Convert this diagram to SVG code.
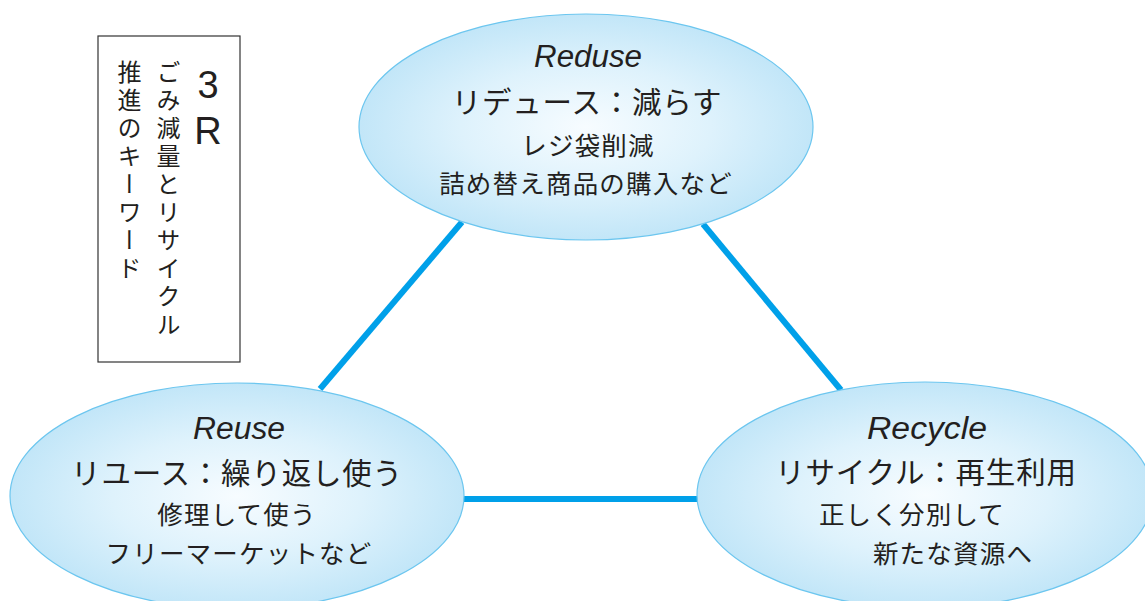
<svg xmlns="http://www.w3.org/2000/svg" width="1145" height="601" viewBox="0 0 1145 601">
<defs>
<radialGradient id="bub" cx="50%" cy="50%" r="50%">
<stop offset="0" stop-color="#f7fcff"/>
<stop offset="0.55" stop-color="#def2fc"/>
<stop offset="1" stop-color="#c2e6f8"/>
</radialGradient>
<style>
.bub{fill:url(#bub);stroke:#6cc6ef;stroke-width:1.2}
.con{stroke:#00a0e9;stroke-width:6;fill:none}
text{fill:#231f20;font-family:"Noto Sans CJK JP","Noto Sans",sans-serif}
.t{font-family:"Liberation Sans",Arial,sans-serif;font-style:italic;font-size:31px;text-anchor:middle;dominant-baseline:central}
.m{font-size:29.5px;text-anchor:middle;dominant-baseline:central;letter-spacing:0.8px}
.s{font-size:25.5px;text-anchor:middle;dominant-baseline:central;letter-spacing:1.2px}
.v{writing-mode:vertical-rl;font-size:24px;letter-spacing:4px}
.box{fill:#fff;stroke:#333;stroke-width:1.2}
</style>
</defs>
<rect width="1145" height="601" fill="#fff"/>
<g id="connectors">
<line class="con" x1="462" y1="222" x2="320" y2="389"/>
<line class="con" x1="703" y1="224" x2="841" y2="390"/>
<line class="con" x1="462" y1="499" x2="699" y2="499"/>
</g>
<g id="legend">
<rect class="box" x="98" y="36" width="142" height="326"/>
<text x="208" y="64" style="writing-mode:vertical-rl;text-orientation:upright;font-family:'Liberation Sans',Arial,sans-serif;font-size:38px;letter-spacing:4px">3R</text>
<text class="v" x="168.5" y="60">ごみ減量とリサイクル</text>
<text class="v" x="129.5" y="60">推進のキーワード</text>
</g>
<g id="reduce">
<ellipse class="bub" cx="586" cy="127" rx="227" ry="113"/>
<text class="t" x="588" y="56" textLength="108" lengthAdjust="spacingAndGlyphs">Reduse</text>
<text class="m" x="587" y="100">リデュース：減らす</text>
<text class="s" x="588" y="143">レジ袋削減</text>
<text class="s" x="586" y="181">詰め替え商品の購入など</text>
</g>
<g id="reuse">
<ellipse class="bub" cx="237" cy="496" rx="227" ry="113"/>
<text class="t" x="239" y="428" textLength="92" lengthAdjust="spacingAndGlyphs">Reuse</text>
<text class="m" x="237" y="471">リユース：繰り返し使う</text>
<text class="s" x="237" y="512">修理して使う</text>
<text class="s" x="239" y="551">フリーマーケットなど</text>
</g>
<g id="recycle">
<ellipse class="bub" cx="925" cy="495" rx="228" ry="113"/>
<text class="t" x="927" y="428" textLength="120" lengthAdjust="spacingAndGlyphs">Recycle</text>
<text class="m" x="926" y="470">リサイクル：再生利用</text>
<text class="s" x="912" y="512">正しく分別して</text>
<text class="s" x="953" y="551">新たな資源へ</text>
</g>
</svg>
